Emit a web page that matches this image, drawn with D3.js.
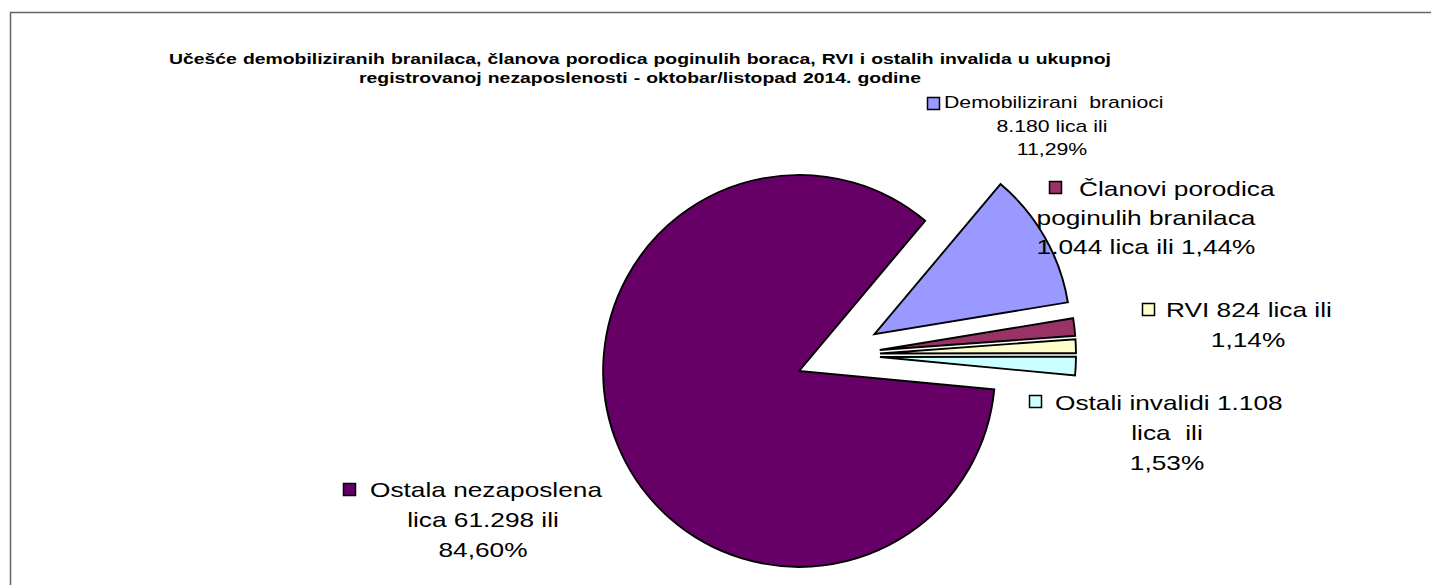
<!DOCTYPE html>
<html>
<head>
<meta charset="utf-8">
<script src="https://cdn.jsdelivr.net/npm/d3@7"></script>
<style>
  body { margin: 0; background: #fff; }
  svg { display: block; font-family: "Liberation Sans", Arial, sans-serif; }
  .title { font-weight: bold; font-size: 15.5px; fill: #000; }
  .slice { stroke: #000; stroke-width: 1.9; stroke-linejoin: miter; }
  .label { fill: #000; }
  .key { stroke: #000; stroke-width: 1.5; }
</style>
</head>
<body>
<div id="chart"></div>
<script>
// Data
const categories = ['Demobilizirani branioci', 'Članovi porodica poginulih branilaca', 'RVI', 'Ostali invalidi', 'Ostala nezaposlena lica'];
const values = [8180, 1044, 824, 1108, 61298];
const colors = ['#9999ff', '#993366', '#ffffcc', '#ccffff', '#660066'];
const labelLines = [
  ['Demobilizirani  branioci', '8.180 lica ili', '11,29%'],
  ['Članovi porodica', 'poginulih branilaca', '1.044 lica ili 1,44%'],
  ['RVI 824 lica ili', '1,14%'],
  ['Ostali invalidi 1.108', 'lica  ili', '1,53%'],
  ['Ostala nezaposlena', 'lica 61.298 ili', '84,60%']
];
const titleLines = [
  'Učešće demobiliziranih branilaca, članova porodica poginulih boraca, RVI i ostalih invalida u ukupnoj',
  'registrovanoj nezaposlenosti - oktobar/listopad 2014. godine'
];

const W = 1431, H = 585;
const cx = 838, cy = 355, radius = 196, explode = 42;
const startDeg = 40;
const stretch = 1.25; // text in the original is drawn wider than normal

// Label layout: key box, first line left x, other lines centre x, first baseline, line step
const labelLayout = [
  { kx: 927, ky: 97, x: 944, c: 1052, y: 108, step: 23.5, size: 17 },
  { kx: 1049, ky: 181, x: 1079, c: 1146, y: 196, step: 29, size: 21 },
  { kx: 1142, ky: 303, x: 1166, c: 1248, y: 317, step: 30, size: 21 },
  { kx: 1029, ky: 395, x: 1055, c: 1167, y: 410, step: 30, size: 21 },
  { kx: 343, ky: 483, x: 370, c: 483, y: 497, step: 30, size: 21 }
];

const svg = d3.select('#chart').append('svg')
  .attr('width', W)
  .attr('height', H)
  .attr('viewBox', `0 0 ${W} ${H}`);

// Frame (left and top edge)
svg.append('path')
  .attr('d', `M10.5,${H} V12.5 H${W}`)
  .attr('fill', 'none')
  .attr('stroke', '#666')
  .attr('stroke-width', 1.5);

// Title, stretched and word-spaced to fill its width
const gT = svg.append('g').attr('class', 'title');
const titleW = 942;
const tt = titleLines.map((t, i) => gT.append('text')
  .attr('transform', `translate(640,${64 + i * 18.5}) scale(${stretch},1)`)
  .attr('text-anchor', 'middle')
  .text(t));
const raw = tt[0].node().getComputedTextLength();
const nSp = titleLines[0].split(' ').length - 1;
const ws = Math.max(0, (titleW / stretch - raw) / nSp);
tt.forEach(t => t.attr('word-spacing', ws));

// Pie
const pie = d3.pie()
  .sort(null)
  .value(d => d)
  .startAngle(startDeg * Math.PI / 180)
  .endAngle(startDeg * Math.PI / 180 + 2 * Math.PI);
const arc = d3.arc().innerRadius(0).outerRadius(radius);
const arcs = pie(values);

const gP = svg.append('g')
  .attr('transform', `translate(${cx},${cy})`);
arcs.forEach((a, i) => {
  const mid = (a.startAngle + a.endAngle) / 2;
  const dx = Math.sin(mid) * explode;
  const dy = -Math.cos(mid) * explode;
  gP.append('path')
    .attr('class', 'slice')
    .attr('d', arc(a))
    .attr('fill', colors[i])
    .attr('transform', `translate(${dx},${dy})`);
});

// Labels
const gL = svg.append('g').attr('class', 'labels');
labelLines.forEach((lines, i) => {
  const L = labelLayout[i];
  const g = gL.append('g').attr('font-size', L.size);
  lines.forEach((t, j) => {
    g.append('text')
      .attr('class', 'label')
      .attr('transform', `translate(${j === 0 ? L.x : L.c},${L.y + j * L.step}) scale(${stretch},1)`)
      .attr('text-anchor', j === 0 ? 'start' : 'middle')
      .style('white-space', 'pre')
      .text(t);
  });
  g.append('rect')
    .attr('class', 'key')
    .attr('x', L.kx + 0.5)
    .attr('y', L.ky + 0.5)
    .attr('width', 12)
    .attr('height', 12)
    .attr('fill', colors[i]);
});
</script>
</body>
</html>
